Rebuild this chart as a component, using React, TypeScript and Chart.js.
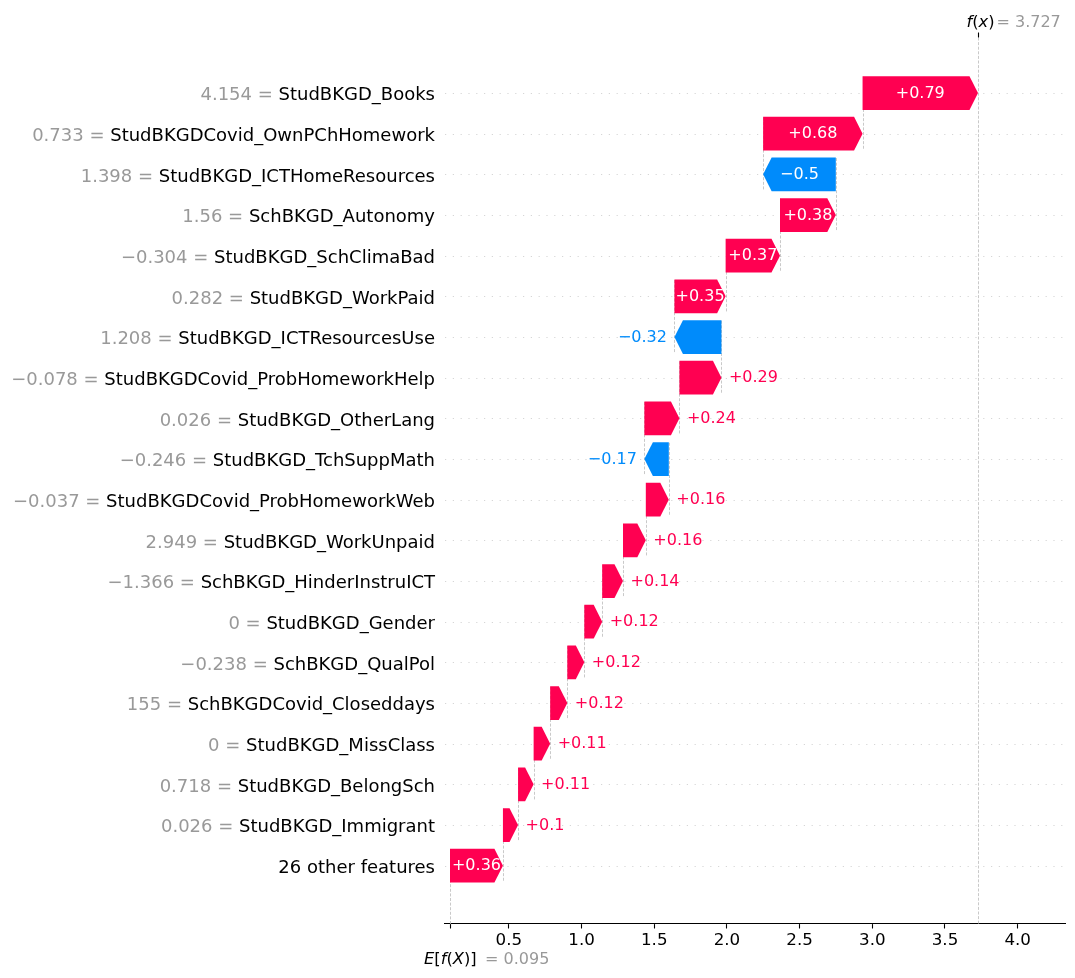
import React, { useEffect, useRef } from 'react';
import { Chart, registerables } from 'chart.js';

Chart.register(...registerables);

// ---- data (top row first) ----
const featureNames = [
  'StudBKGD_Books',
  'StudBKGDCovid_OwnPChHomework',
  'StudBKGD_ICTHomeResources',
  'SchBKGD_Autonomy',
  'StudBKGD_SchClimaBad',
  'StudBKGD_WorkPaid',
  'StudBKGD_ICTResourcesUse',
  'StudBKGDCovid_ProbHomeworkHelp',
  'StudBKGD_OtherLang',
  'StudBKGD_TchSuppMath',
  'StudBKGDCovid_ProbHomeworkWeb',
  'StudBKGD_WorkUnpaid',
  'SchBKGD_HinderInstruICT',
  'StudBKGD_Gender',
  'SchBKGD_QualPol',
  'SchBKGDCovid_Closeddays',
  'StudBKGD_MissClass',
  'StudBKGD_BelongSch',
  'StudBKGD_Immigrant',
  '26 other features',
];

const featureValues = [
  '4.154', '0.733', '1.398', '1.56', '\u22120.304', '0.282', '1.208', '\u22120.078',
  '0.026', '\u22120.246', '\u22120.037', '2.949', '\u22121.366', '0', '\u22120.238',
  '155', '0', '0.718', '0.026', '',
];

const shapValues = [
  0.794, 0.684, -0.5, 0.384, 0.374, 0.352, -0.323, 0.289, 0.241, -0.168,
  0.158, 0.157, 0.143, 0.123, 0.117, 0.118, 0.114, 0.107, 0.104, 0.364,
];

const baseValue = 0.095;
const fxValue = 3.727;
const xTickValues = [0.5, 1.0, 1.5, 2.0, 2.5, 3.0, 3.5, 4.0];
const xMin = 0.0605;
const xMax = 4.3255;
const yMin = -1.434;
const yMax = 20.365;

const RED = '#ff0051';
const BLUE = '#008bfb';
const FONT = "'DejaVu Sans', sans-serif";

function fmtShap(v: number): string {
  const s = Math.abs(v).toFixed(2).replace(/0+$/, '').replace(/\.$/, '');
  return (v >= 0 ? '+' : '\u2212') + s;
}

const N = featureNames.length;
const starts: number[] = new Array(N);
const ends: number[] = new Array(N);
{
  let cum = baseValue;
  for (let i = N - 1; i >= 0; i--) {
    starts[i] = cum;
    cum += shapValues[i];
    ends[i] = cum;
  }
}
const rowOf = (i: number) => N - 1 - i;
const BAR_HALF = 0.415;

function drawMath(ctx: CanvasRenderingContext2D, pieces: [string, boolean][], x: number, y: number, size: number, color: string) {
  let cx = x;
  ctx.fillStyle = color;
  ctx.textAlign = 'left';
  ctx.textBaseline = 'alphabetic';
  for (const [t, it] of pieces) {
    ctx.font = `${it ? 'italic ' : ''}${size}px ${FONT}`;
    ctx.fillText(t, cx, y);
    cx += ctx.measureText(t).width;
  }
  return cx;
}

const waterfallPlugin = {
  id: 'waterfall',
  beforeDatasetsDraw(chart: any) {
    const { ctx, chartArea, scales } = chart;
    const x = scales.x;
    const y = scales.y;
    ctx.save();
    // dotted row lines
    ctx.strokeStyle = '#cccccc';
    ctx.lineWidth = 0.8;
    ctx.setLineDash([1.2, 6.6]);
    for (let r = 0; r < N; r++) {
      const py = Math.round(y.getPixelForValue(r)) + 0.5;
      ctx.beginPath();
      ctx.moveTo(chartArea.left, py);
      ctx.lineTo(chartArea.right, py);
      ctx.stroke();
    }
    // connectors
    ctx.strokeStyle = '#bbbbbb';
    ctx.lineWidth = 0.8;
    ctx.setLineDash([3, 1.6]);
    for (let i = 0; i < N - 1; i++) {
      const r = rowOf(i);
      const px = Math.round(x.getPixelForValue(starts[i])) + 0.5;
      ctx.beginPath();
      ctx.moveTo(px, y.getPixelForValue(r + 0.4));
      ctx.lineTo(px, y.getPixelForValue(r - 1.4));
      ctx.stroke();
    }
    // base line
    {
      const px = Math.round(x.getPixelForValue(baseValue)) + 0.5;
      ctx.beginPath();
      ctx.moveTo(px, chartArea.bottom);
      ctx.lineTo(px, chartArea.bottom - chartArea.height / N);
      ctx.stroke();
    }
    // f(x) line
    {
      const px = Math.round(x.getPixelForValue(fxValue)) + 0.5;
      ctx.beginPath();
      ctx.moveTo(px, chartArea.top);
      ctx.lineTo(px, chartArea.bottom);
      ctx.stroke();
    }
    ctx.restore();
  },
  afterDatasetsDraw(chart: any) {
    const { ctx, scales } = chart;
    const x = scales.x;
    const y = scales.y;
    ctx.save();
    ctx.setLineDash([]);
    const headPx = 8.5;
    for (let i = 0; i < N; i++) {
      const r = rowOf(i);
      const cy = y.getPixelForValue(r);
      const top = y.getPixelForValue(r + BAR_HALF);
      const bot = y.getPixelForValue(r - BAR_HALF);
      const s = x.getPixelForValue(starts[i]);
      const e = x.getPixelForValue(ends[i]);
      const len = Math.abs(e - s);
      const hl = Math.min(len, headPx);
      const pos = shapValues[i] >= 0;
      const color = pos ? RED : BLUE;
      ctx.fillStyle = color;
      ctx.beginPath();
      if (pos) {
        ctx.moveTo(s, top);
        ctx.lineTo(e - hl, top);
        ctx.lineTo(e, cy);
        ctx.lineTo(e - hl, bot);
        ctx.lineTo(s, bot);
      } else {
        ctx.moveTo(s, top);
        ctx.lineTo(e + hl, top);
        ctx.lineTo(e, cy);
        ctx.lineTo(e + hl, bot);
        ctx.lineTo(s, bot);
      }
      ctx.closePath();
      ctx.fill();

      // label
      const txt = fmtShap(shapValues[i]);
      ctx.font = `16px ${FONT}`;
      ctx.textBaseline = 'middle';
      const tw = ctx.measureText(txt).width;
      if (tw < len) {
        ctx.fillStyle = '#ffffff';
        ctx.textAlign = 'center';
        ctx.fillText(txt, (s + e) / 2, cy + 0.5);
      } else if (pos) {
        ctx.fillStyle = color;
        ctx.textAlign = 'left';
        ctx.fillText(txt, e + 7.5, cy + 0.5);
      } else {
        ctx.fillStyle = color;
        ctx.textAlign = 'right';
        ctx.fillText(txt, e - 7.5, cy + 0.5);
      }
    }
    ctx.restore();
  },
  afterDraw(chart: any) {
    const { ctx, chartArea, scales } = chart;
    const x = scales.x;
    const y = scales.y;
    ctx.save();
    // y labels
    ctx.textBaseline = 'middle';
    ctx.textAlign = 'right';
    const rightX = chartArea.left - 10;
    for (let i = 0; i < N; i++) {
      const py = y.getPixelForValue(rowOf(i)) + 2.5;
      ctx.font = `18px ${FONT}`;
      ctx.fillStyle = '#000000';
      ctx.fillText(featureNames[i], rightX, py);
      if (featureValues[i] !== '') {
        const w = ctx.measureText(featureNames[i]).width;
        ctx.fillStyle = '#999999';
        ctx.fillText(featureValues[i] + ' = ', rightX - w, py);
      }
    }
    // top tick at f(x)
    const fxPx = Math.round(x.getPixelForValue(fxValue)) + 0.5;
    ctx.strokeStyle = '#000000';
    ctx.lineWidth = 1.1;
    ctx.beginPath();
    ctx.moveTo(fxPx, chartArea.top);
    ctx.lineTo(fxPx, chartArea.top - 5);
    ctx.stroke();

    // f(x) label
    drawMath(ctx, [['f', true], ['(', false], ['x', true], [')', false]], fxPx - 12, 26.5, 16.3, '#000000');
    ctx.font = `16px ${FONT}`;
    ctx.fillStyle = '#999999';
    ctx.textAlign = 'left';
    ctx.textBaseline = 'alphabetic';
    ctx.fillText('= ' + fxValue.toFixed(3), fxPx + 18, 26.5);

    // E[f(X)] label
    const bPx = x.getPixelForValue(baseValue);
    drawMath(ctx, [['E', true], ['[', false], ['f', true], ['(', false], ['X', true], [')]', false]], bPx - 26, 964, 16.3, '#000000');
    ctx.font = `16px ${FONT}`;
    ctx.fillStyle = '#999999';
    ctx.textAlign = 'left';
    ctx.textBaseline = 'alphabetic';
    ctx.fillText('= ' + baseValue.toFixed(3), bPx + 35, 964);
    ctx.restore();
  },
};

export default function App() {
  const canvasRef = useRef<HTMLCanvasElement | null>(null);

  useEffect(() => {
    const canvas = canvasRef.current;
    if (!canvas) return;
    const chart = new Chart(canvas, {
      type: 'bar',
      data: {
        datasets: [
          {
            data: shapValues.map((_, i) => ({ x: [starts[i], ends[i]], y: rowOf(i) })) as any,
            backgroundColor: 'rgba(0,0,0,0)',
            borderWidth: 0,
            categoryPercentage: 1,
            barPercentage: 0.83,
          },
        ],
      },
      options: {
        indexAxis: 'y',
        responsive: false,
        maintainAspectRatio: false,
        animation: false,
        events: [],
        layout: { padding: { left: 445, right: 10, top: 37.5, bottom: 0 } },
        plugins: {
          legend: { display: false },
          tooltip: { enabled: false },
        },
        scales: {
          x: {
            type: 'linear',
            position: 'bottom',
            min: xMin,
            max: xMax,
            afterBuildTicks: (scale: any) => {
              scale.ticks = [baseValue, ...xTickValues].map((v) => ({ value: v }));
            },
            afterFit: (scale: any) => {
              scale.height = 54;
            },
            ticks: {
              autoSkip: false,
              maxRotation: 0,
              padding: 2.5,
              color: '#000000',
              font: { family: FONT, size: 16.7, lineHeight: 1.2 },
              callback: (value: any) => (Math.abs(Number(value) - baseValue) < 1e-9 ? '' : Number(value).toFixed(1)),
            },
            grid: {
              display: true,
              drawOnChartArea: false,
              drawTicks: true,
              tickLength: 4.5,
              tickWidth: 1.1,
              tickColor: '#000000',
            },
            border: { display: true, color: '#000000', width: 1.1 },
          },
          y: {
            type: 'linear',
            min: yMin,
            max: yMax,
            offset: false,
            grace: 0,
            display: false,
            afterBuildTicks: (scale: any) => {
              scale.ticks = featureNames.map((_, i) => ({ value: i }));
            },
          },
        },
      },
      plugins: [waterfallPlugin],
    } as any);
    return () => chart.destroy();
  }, []);

  return (
    <div style={{ position: 'absolute', left: 0, top: 0, width: 1075, height: 978, background: '#ffffff' }}>
      <canvas ref={canvasRef} width={1075} height={978} style={{ display: 'block', width: 1075, height: 978 }} />
    </div>
  );
}
